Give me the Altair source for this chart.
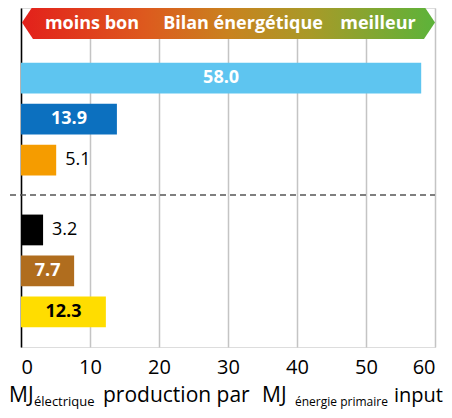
import altair as alt
import pandas as pd

# ---- data ----
sources = ["Hydroélectricité", "Éolienne", "Photovoltaïque", "Charbon", "Gaz naturel", "Nucléaire"]
groupes = ["Renouvelables", "Renouvelables", "Renouvelables",
           "Non renouvelables", "Non renouvelables", "Non renouvelables"]
valeurs = [58.0, 13.9, 5.1, 3.2, 7.7, 12.3]
couleurs = ["#5EC5F0", "#0C70BF", "#F59C00", "#000000", "#B06D1E", "#FFDD00"]
x_ticks = [0, 10, 20, 30, 40, 50, 60]
bandeau = ["moins bon", "Bilan énergétique", "meilleur"]

df = pd.DataFrame({"source": sources, "groupe": groupes, "valeur": valeurs})

FONT = "Open Sans"
W, H = 414, 339

base = alt.Chart(df).transform_window(rang="row_number()", groupby=["groupe"])

x_enc = alt.X("valeur:Q", scale=alt.Scale(domain=[0, 60], nice=False),
              axis=alt.Axis(values=x_ticks, title=None, grid=True, gridColor="#C4C4C4",
                            gridWidth=1.5, ticks=False, domain=False, labelFontSize=20,
                            labelPadding=10, labelColor="black", labelFont=FONT))
y_enc = alt.Y("groupe:N", sort=["Renouvelables", "Non renouvelables"],
              scale=alt.Scale(paddingInner=0.19, paddingOuter=0.2109, align=0.7734),
              axis=alt.Axis(labels=False, ticks=False, title=None, domainColor="black",
                            domainWidth=1.5, grid=False))
yo_enc = alt.YOffset("rang:O", scale=alt.Scale(paddingInner=0.25, paddingOuter=0.125))

bars = base.mark_bar().encode(
    x=x_enc, y=y_enc, yOffset=yo_enc,
    color=alt.Color("source:N", scale=alt.Scale(domain=sources, range=couleurs), legend=None),
)

txt_in = base.transform_filter("datum.valeur >= 6").transform_calculate(
    milieu="datum.valeur / 2"
).mark_text(fontSize=18, fontWeight="bold", font=FONT, baseline="middle").encode(
    x="milieu:Q", y=y_enc, yOffset=yo_enc,
    text=alt.Text("valeur:Q", format=".1f"),
    color=alt.condition("datum.source == 'Nucléaire'", alt.value("black"), alt.value("white")),
)

txt_out = base.transform_filter("datum.valeur < 6").mark_text(
    fontSize=18, font=FONT, baseline="middle", align="left", dx=9, color="black"
).encode(
    x="valeur:Q", y=y_enc, yOffset=yo_enc,
    text=alt.Text("valeur:Q", format=".1f"),
)

one = alt.Chart(pd.DataFrame({"k": [0]}))

grad = alt.Gradient(
    gradient="linear", x1=0, x2=1, y1=0, y2=0,
    stops=[
        alt.GradientStop(color="#E3201B", offset=0),
        alt.GradientStop(color="#DD5A1E", offset=0.3),
        alt.GradientStop(color="#C9821F", offset=0.5),
        alt.GradientStop(color="#A89A28", offset=0.7),
        alt.GradientStop(color="#5CB33A", offset=1),
    ],
)
arrow_path = "M-1,0L-0.9467,-0.0799L0.9467,-0.0799L1,0L0.9467,0.0799L-0.9467,0.0799Z"
banner = one.mark_point(shape=arrow_path, size=413 * 413, filled=True, fill=grad,
                        opacity=1, strokeWidth=0).encode(
    x=alt.value(207.5), y=alt.value(14.5))

banner_txt = []
for lab, xp in zip(bandeau, [71, 222, 357]):
    banner_txt.append(one.mark_text(text=lab, fontSize=18, fontWeight="bold", font=FONT,
                                    color="white", baseline="middle", align="center")
                      .encode(x=alt.value(xp), y=alt.value(15.5)))

sep = one.mark_rule(strokeDash=[6, 4], color="#555555", strokeWidth=1.5).encode(
    x=alt.value(-21), x2=alt.value(W), y=alt.value(187))

title_parts = [
    ("MJ", -12, 394, 21),
    ("électrique", 13, 398, 13),
    ("production par", 82, 394, 21),
    ("MJ", 241, 394, 21),
    ("énergie primaire", 274, 398, 12),
    ("input", 373, 394, 20),
]
title_layers = [
    one.mark_text(text=t, fontSize=fs, font=FONT, color="black", align="left",
                  baseline="alphabetic").encode(x=alt.value(xp), y=alt.value(yp))
    for t, xp, yp, fs in title_parts
]

chart = alt.layer(
    bars, sep, banner, *banner_txt, txt_in, txt_out, *title_layers
).properties(
    width=W, height=H,
    autosize=alt.AutoSizeParams(type="none"),
    padding={"left": 13, "top": 0, "right": 9, "bottom": 63},
).configure_view(stroke=None).configure(font=FONT)

chart.save("out.html", embed_options={"renderer": "svg", "actions": False})
